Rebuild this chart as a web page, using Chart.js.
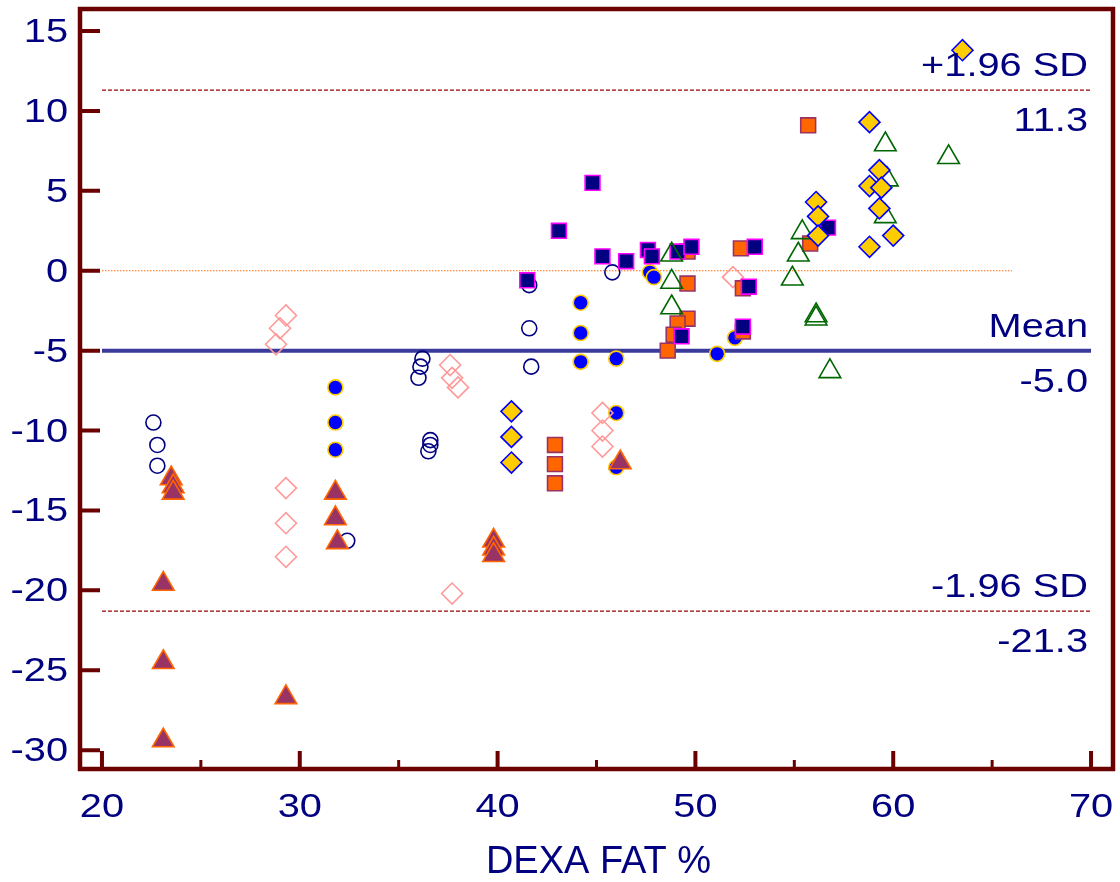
<!DOCTYPE html>
<html>
<head>
<meta charset="utf-8">
<title>DEXA FAT %</title>
<script src="https://cdn.jsdelivr.net/npm/chart.js@4.4.1/dist/chart.umd.min.js"></script>
<style>
  html, body { margin: 0; padding: 0; background: #fff; }
  canvas { display: block; }
</style>
</head>
<body>
<canvas id="baChart" width="1120" height="882"></canvas>
<script>
// Bland-Altman: difference vs DEXA fat %, one array pair per marker group
const openCircleX = [22.6, 22.8, 22.8, 32.4, 36.2, 36.1, 36.0, 36.6, 36.6, 36.5, 41.6, 41.6, 41.7, 45.8];
const openCircleY = [-9.5, -10.9, -12.2, -16.9, -5.5, -6.0, -6.7, -10.6, -10.9, -11.3, -0.9, -3.6, -6.0, -0.1];

const blueDotX = [31.8, 31.8, 31.8, 44.2, 44.2, 44.2, 46.0, 46.0, 46.0, 47.7, 47.9, 51.1, 52.0];
const blueDotY = [-7.3, -9.5, -11.2, -2.0, -3.9, -5.7, -5.5, -8.9, -12.3, -0.1, -0.4, -5.2, -4.2];

const plumTriX = [23.1, 23.1, 23.1, 29.3, 23.5, 23.6, 23.6, 31.8, 31.8, 31.9, 39.8, 39.8, 39.8, 46.2];
const plumTriY = [-19.6, -24.5, -29.4, -26.7, -13.0, -13.5, -13.9, -13.9, -15.5, -17.0, -16.9, -17.4, -17.8, -12.0];

const pinkDiamondX = [29.3, 29.3, 29.3, 29.3, 29.0, 28.8, 37.6, 37.7, 38.0, 37.7, 45.3, 45.3, 45.3, 51.9];
const pinkDiamondY = [-13.6, -15.8, -17.9, -2.8, -3.6, -4.6, -5.9, -6.7, -7.3, -20.2, -8.9, -10.0, -11.0, -0.4];

const goldDiamondX = [40.7, 40.7, 40.7, 58.8, 59.3, 58.8, 59.4, 59.3, 60.0, 58.8, 56.1, 56.2, 56.2, 63.5];
const goldDiamondY = [-8.8, -10.4, -12.0, 9.3, 6.3, 5.3, 5.2, 3.9, 2.2, 1.5, 4.3, 3.4, 2.2, 13.8];

const orangeSquareX = [42.9, 42.9, 42.9, 55.7, 52.3, 55.8, 49.6, 49.6, 49.6, 49.1, 48.9, 48.6, 52.4, 52.4];
const orangeSquareY = [-10.9, -12.1, -13.3, 9.1, 1.4, 1.7, 1.2, -0.8, -3.0, -3.3, -4.0, -5.0, -1.1, -3.8];

const navySquareX = [44.8, 43.1, 41.5, 45.3, 46.5, 47.6, 47.8, 49.1, 49.8, 53.0, 52.7, 52.4, 49.3, 56.7];
const navySquareY = [5.5, 2.5, -0.6, 0.9, 0.6, 1.3, 0.9, 1.2, 1.5, 1.5, -1.0, -3.5, -4.1, 2.7];

const greenTriX = [59.6, 62.8, 59.7, 59.6, 55.4, 55.2, 54.9, 56.1, 56.1, 56.8, 48.8, 48.8, 48.8];
const greenTriY = [7.9, 7.1, 5.7, 3.4, 2.4, 1.0, -0.5, -2.8, -3.0, -6.3, 1.0, -0.7, -2.3];

// limits of agreement
const meanDiff = -5.0;
const upperLimit = 11.3;
const lowerLimit = -21.3;
const limitSpan = [20, 70];
const zeroSpan = [20, 66];

const xMajorTicks = [20, 30, 40, 50, 60, 70];
const xMinorTicks = [25, 35, 45, 55, 65];
const yTicks = [15, 10, 5, 0, -5, -10, -15, -20, -25, -30];

const NAVY = '#000080';
const FRAME = '#6b0000';
const FONT = "'Liberation Sans', Arial, sans-serif";
const STRETCH = 1.17;

const pts = (xs, ys) => xs.map((x, i) => ({ x, y: ys[i] }));
const hline = (span, y) => span.map(x => ({ x, y }));

function wideText(ctx, str, x, y, align) {
  ctx.save();
  ctx.translate(x, y);
  ctx.scale(STRETCH, 1);
  ctx.textAlign = align;
  ctx.fillText(str, 0, 0);
  ctx.restore();
}

// frame, inward ticks, labels and limit captions
const framePlugin = {
  id: 'frame',
  afterDraw(chart) {
    const { ctx, chartArea: a, scales: { x, y } } = chart;
    ctx.save();
    ctx.strokeStyle = FRAME;
    ctx.lineWidth = 4.5;
    ctx.strokeRect(a.left, a.top, a.right - a.left, a.bottom - a.top);

    ctx.lineWidth = 4;
    ctx.beginPath();
    yTicks.forEach(v => {
      const py = y.getPixelForValue(v);
      ctx.moveTo(a.left, py);
      ctx.lineTo(a.left + 20, py);
    });
    xMajorTicks.forEach(v => {
      const px = x.getPixelForValue(v);
      ctx.moveTo(px, a.bottom);
      ctx.lineTo(px, a.bottom - 18);
    });
    ctx.stroke();

    ctx.lineWidth = 3;
    ctx.beginPath();
    xMinorTicks.forEach(v => {
      const px = x.getPixelForValue(v);
      ctx.moveTo(px, a.bottom);
      ctx.lineTo(px, a.bottom - 9);
    });
    ctx.stroke();

    ctx.fillStyle = NAVY;
    ctx.textBaseline = 'alphabetic';
    ctx.font = '34px ' + FONT;
    yTicks.forEach(v => wideText(ctx, String(v), a.left - 12, y.getPixelForValue(v) + 11, 'right'));
    xMajorTicks.forEach(v => wideText(ctx, String(v), x.getPixelForValue(v), 817, 'center'));

    const rx = x.getPixelForValue(limitSpan[1]) - 3;
    [['+1.96 SD', upperLimit], ['Mean', meanDiff], ['-1.96 SD', lowerLimit]].forEach(([name, v]) => {
      const py = y.getPixelForValue(v);
      wideText(ctx, name, rx, py - 14, 'right');
      wideText(ctx, v.toFixed(1), rx, py + 41, 'right');
    });

    ctx.font = '38px ' + FONT;
    ctx.textAlign = 'center';
    ctx.fillText('DEXA FAT %', (a.left + a.right) / 2 + 2, 873);
    ctx.restore();
  }
};

const ctx = document.getElementById('baChart').getContext('2d');
new Chart(ctx, {
  type: 'scatter',
  data: {
    datasets: [
      { label: 'gold diamonds', data: pts(goldDiamondX, goldDiamondY), pointStyle: 'rectRot', pointRadius: 10.5,
        backgroundColor: '#ffcc00', borderColor: '#0000ff', borderWidth: 1.6 },
      { label: 'green triangles', data: pts(greenTriX, greenTriY), pointStyle: 'triangle', pointRadius: 12.5,
        backgroundColor: 'rgba(0,0,0,0)', borderColor: '#006600', borderWidth: 1.6 },
      { label: 'navy squares', data: pts(navySquareX, navySquareY), pointStyle: 'rect', pointRadius: 10.5,
        backgroundColor: '#000080', borderColor: '#ff00ff', borderWidth: 1.6 },
      { label: 'orange squares', data: pts(orangeSquareX, orangeSquareY), pointStyle: 'rect', pointRadius: 10.5,
        backgroundColor: '#ff6600', borderColor: '#993366', borderWidth: 1.6 },
      { label: 'plum triangles', data: pts(plumTriX, plumTriY), pointStyle: 'triangle', pointRadius: 12.5,
        backgroundColor: '#993366', borderColor: '#ff6600', borderWidth: 1.6 },
      { label: 'pink diamonds', data: pts(pinkDiamondX, pinkDiamondY), pointStyle: 'rectRot', pointRadius: 10.5,
        backgroundColor: 'rgba(0,0,0,0)', borderColor: '#ff9999', borderWidth: 1.6 },
      { label: 'blue dots', data: pts(blueDotX, blueDotY), pointStyle: 'circle', pointRadius: 7.5,
        backgroundColor: '#0000ff', borderColor: '#ffcc00', borderWidth: 1.6 },
      { label: 'open circles', data: pts(openCircleX, openCircleY), pointStyle: 'circle', pointRadius: 7.5,
        backgroundColor: 'rgba(0,0,0,0)', borderColor: '#000080', borderWidth: 1.6 },

      { type: 'line', label: 'mean', data: hline(limitSpan, meanDiff), showLine: true, pointRadius: 0,
        borderColor: '#3a3a9a', borderWidth: 4 },
      { type: 'line', label: 'upper', data: hline(limitSpan, upperLimit), showLine: true, pointRadius: 0,
        borderColor: '#990000', borderWidth: 1.2, borderDash: [4, 2] },
      { type: 'line', label: 'lower', data: hline(limitSpan, lowerLimit), showLine: true, pointRadius: 0,
        borderColor: '#990000', borderWidth: 1.2, borderDash: [4, 2] },
      { type: 'line', label: 'zero', data: hline(zeroSpan, 0), showLine: true, pointRadius: 0,
        borderColor: '#ff6600', borderWidth: 1.2, borderDash: [1.5, 1.5] }
    ]
  },
  options: {
    responsive: false,
    animation: false,
    layout: { autoPadding: false, padding: { left: 80, right: 7, top: 9, bottom: 113 } },
    scales: {
      x: { type: 'linear', min: 18.89, max: 71.11, display: false },
      y: { type: 'linear', min: -31.18, max: 16.38, display: false }
    },
    plugins: { legend: { display: false }, tooltip: { enabled: false } },
    events: []
  },
  plugins: [framePlugin]
});
</script>
</body>
</html>
